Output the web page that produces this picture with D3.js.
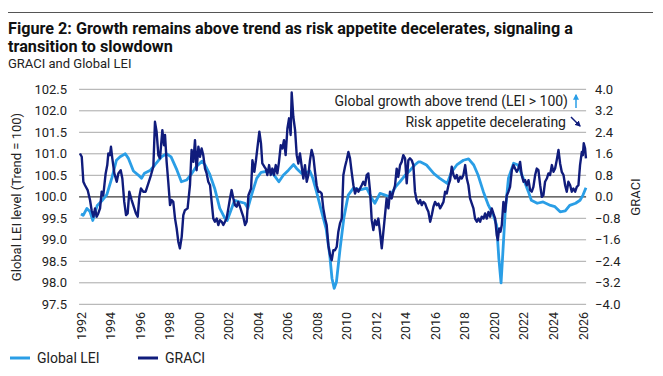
<!DOCTYPE html>
<html>
<head>
<meta charset="utf-8">
<script src="https://cdn.jsdelivr.net/npm/d3@7"></script>
<style>
  body { margin: 0; background: #fff; }
  svg { display: block; font-family: Roboto, "Noto Sans", sans-serif; }
</style>
</head>
<body>
<svg id="chart"></svg>
<script>
// Global LEI (left axis) as [year fraction, level]
var leiDates = [1992.0,1992.15,1992.4,1992.6,1992.8,1993.1,1993.4,1993.75,1994.1,1994.4,1994.65,1995.0,1995.2,1995.55,1995.9,1996.1,1996.3,1996.7,1997.0,1997.45,1997.8,1998.1,1998.5,1998.8,1999.15,1999.5,1999.8,2000.2,2000.4,2000.7,2001.05,2001.4,2001.75,2001.9,2002.2,2002.4,2002.75,2003.1,2003.3,2003.55,2003.9,2004.2,2004.7,2005.0,2005.4,2005.7,2006.05,2006.4,2006.6,2006.95,2007.3,2007.5,2007.7,2007.95,2008.3,2008.6,2008.85,2009.0,2009.15,2009.3,2009.55,2009.8,2010.1,2010.45,2010.9,2011.35,2011.7,2011.9,2012.25,2012.6,2012.9,2013.3,2013.6,2013.95,2014.3,2014.6,2014.85,2015.0,2015.4,2015.9,2016.3,2016.8,2017.1,2017.45,2017.9,2018.25,2018.6,2018.9,2019.25,2019.6,2019.9,2020.15,2020.3,2020.45,2020.55,2020.73,2020.95,2021.3,2021.6,2021.95,2022.3,2022.5,2022.9,2023.3,2023.8,2024.1,2024.45,2024.8,2025.1,2025.5,2025.8,2026.0,2026.2];
var leiLevels = [99.6,99.57,99.73,99.66,99.45,99.8,99.9,100.05,100.45,100.85,100.93,101.0,100.9,100.6,100.5,100.43,100.55,100.62,100.74,100.93,101.0,100.93,100.62,100.35,100.39,100.54,100.7,100.83,100.74,100.54,100.2,99.73,99.5,99.45,99.73,99.92,99.88,99.85,99.73,100.04,100.43,100.57,100.6,100.54,100.35,100.5,100.62,100.75,100.66,100.54,100.57,100.6,100.43,100.12,99.65,99.26,98.64,98.1,97.87,98.02,98.8,99.5,100.04,100.2,100.16,100.2,99.96,99.85,100.08,100.04,100.0,100.23,100.35,100.5,100.62,100.74,100.81,100.81,100.74,100.54,100.43,100.31,100.58,100.74,100.85,100.88,100.74,100.5,100.12,99.8,99.6,99.34,98.57,98.0,98.57,99.65,100.43,100.78,100.74,100.43,100.12,99.92,99.85,99.88,99.8,99.77,99.65,99.67,99.8,99.85,99.92,100.04,100.21];

// GRACI (right axis)
var graciDates = [1991.93,1992.05,1992.16,1992.27,1992.45,1992.61,1992.72,1992.84,1992.95,1993.06,1993.17,1993.29,1993.4,1993.51,1993.67,1993.78,1993.85,1993.96,1994.03,1994.12,1994.26,1994.42,1994.53,1994.69,1994.8,1994.93,1995.05,1995.16,1995.27,1995.43,1995.61,1995.72,1995.84,1995.95,1996.06,1996.22,1996.38,1996.56,1996.74,1996.9,1997.01,1997.12,1997.24,1997.35,1997.51,1997.62,1997.69,1997.8,1997.91,1998.03,1998.14,1998.25,1998.37,1998.48,1998.59,1998.7,1998.82,1998.93,1999.04,1999.22,1999.38,1999.49,1999.61,1999.72,1999.83,1999.95,2000.06,2000.17,2000.28,2000.4,2000.51,2000.62,2000.74,2000.85,2000.96,2001.07,2001.19,2001.3,2001.41,2001.53,2001.64,2001.75,2001.86,2001.98,2002.09,2002.2,2002.32,2002.43,2002.54,2002.65,2002.77,2002.88,2002.99,2003.11,2003.22,2003.34,2003.52,2003.61,2003.74,2003.85,2003.97,2004.08,2004.19,2004.28,2004.42,2004.51,2004.62,2004.74,2004.85,2004.96,2005.07,2005.19,2005.3,2005.41,2005.53,2005.64,2005.75,2005.86,2005.98,2006.09,2006.2,2006.27,2006.38,2006.5,2006.61,2006.72,2006.83,2006.95,2007.06,2007.17,2007.29,2007.4,2007.51,2007.62,2007.74,2007.85,2007.96,2008.08,2008.19,2008.3,2008.41,2008.53,2008.64,2008.75,2008.87,2008.98,2009.09,2009.2,2009.32,2009.43,2009.54,2009.66,2009.77,2009.88,2009.99,2010.11,2010.22,2010.33,2010.45,2010.56,2010.67,2010.79,2010.9,2011.01,2011.12,2011.24,2011.35,2011.46,2011.58,2011.69,2011.8,2011.91,2012.03,2012.14,2012.25,2012.37,2012.48,2012.59,2012.7,2012.82,2012.93,2013.04,2013.15,2013.27,2013.38,2013.49,2013.61,2013.72,2013.83,2013.95,2014.06,2014.17,2014.28,2014.4,2014.51,2014.62,2014.73,2014.85,2014.97,2015.08,2015.19,2015.31,2015.42,2015.53,2015.65,2015.76,2015.87,2015.98,2016.1,2016.21,2016.32,2016.44,2016.55,2016.66,2016.77,2016.89,2017.0,2017.11,2017.23,2017.34,2017.45,2017.56,2017.68,2017.79,2017.9,2018.02,2018.13,2018.24,2018.35,2018.47,2018.58,2018.69,2018.81,2018.92,2019.03,2019.14,2019.26,2019.37,2019.48,2019.6,2019.71,2019.82,2019.93,2020.05,2020.16,2020.23,2020.32,2020.41,2020.5,2020.61,2020.72,2020.84,2020.95,2021.06,2021.18,2021.29,2021.4,2021.51,2021.63,2021.74,2021.85,2021.97,2022.08,2022.19,2022.31,2022.42,2022.53,2022.64,2022.76,2022.87,2022.98,2023.1,2023.21,2023.32,2023.43,2023.55,2023.66,2023.77,2023.89,2024.0,2024.11,2024.22,2024.34,2024.45,2024.56,2024.68,2024.79,2024.9,2025.01,2025.13,2025.24,2025.35,2025.47,2025.58,2025.69,2025.8,2025.92,2025.99,2026.05,2026.14,2026.2];
var graciLevels = [1.61,1.49,0.56,0.43,0.25,-0.12,-0.5,-0.74,-0.43,-0.74,-0.62,-0.43,0.19,0.06,0.87,1.18,1.61,1.55,1.86,1.43,0.87,0.56,0.87,0.99,0.68,-0.19,-0.68,-0.62,0.19,-0.12,-0.43,-0.62,-0.74,0.0,0.31,0.19,0.19,0.5,0.81,1.12,2.79,2.42,1.55,1.43,2.48,1.92,2.3,1.3,0.56,-0.31,-0.12,-0.19,-0.81,-1.18,-1.67,-1.92,-1.49,-0.68,-0.5,-0.43,0.43,1.74,1.3,2.11,0.99,1.86,1.49,1.8,1.55,1.05,0.87,0.56,0.43,-0.19,-0.81,-0.93,-0.81,-1.05,-0.87,-0.93,-1.05,-0.93,-0.81,-0.43,-0.06,0.25,-0.06,-0.31,-0.37,-0.19,-0.37,-0.56,-0.74,-1.05,-0.93,0.06,0.31,1.36,0.93,1.36,1.92,2.42,1.99,1.24,1.12,1.05,0.81,1.18,0.81,1.05,0.81,1.18,0.87,1.3,1.92,1.8,2.11,1.55,2.54,2.92,2.3,3.88,2.98,2.48,1.55,1.24,1.61,1.12,0.68,1.18,0.56,0.81,1.36,1.74,1.49,0.93,0.43,0.19,0.19,0.12,-0.43,-0.81,-1.05,-1.8,-2.17,-2.36,-1.99,-1.99,-1.86,-1.3,-0.99,-0.81,0.81,1.12,1.36,1.67,1.43,0.93,0.43,0.12,0.31,0.19,0.31,0.43,0.56,0.43,0.81,0.87,0.19,-0.87,-1.24,-0.87,-1.05,-0.81,-1.3,-1.92,-1.3,-0.68,-0.06,-0.43,0.19,-0.06,0.19,0.43,1.05,0.74,1.18,1.3,1.55,1.43,0.5,1.36,1.43,1.36,1.18,0.19,-0.12,-0.25,-0.12,-0.31,-0.19,-0.25,-0.43,-0.56,-0.93,-0.68,-0.37,-0.19,-0.31,-0.25,-0.43,-0.31,-0.19,0.19,0.12,0.43,0.62,1.12,0.81,0.68,0.81,0.56,0.74,0.68,0.81,1.18,0.68,0.43,-0.06,-0.25,-0.43,-0.81,-0.93,-0.81,-0.93,-0.74,-0.81,-0.62,-0.81,-0.56,-0.74,-0.43,-0.62,-0.81,-1.43,-1.61,-1.18,-1.3,-1.05,-0.19,-0.56,0.06,0.19,0.37,0.99,1.18,1.05,0.93,1.05,1.3,0.81,0.56,0.62,0.43,0.62,0.25,0.19,0.37,0.81,1.05,0.99,0.43,0.0,0.06,0.56,0.68,0.87,0.81,1.18,0.93,1.05,1.36,1.74,1.24,0.93,0.81,0.43,0.19,0.56,0.43,0.19,0.31,0.19,0.37,0.43,1.18,1.67,1.55,1.99,1.8,1.43];

var yearTicks = d3.range(1992, 2027, 2);
var leiTicks = [97.5, 98.0, 98.5, 99.0, 99.5, 100.0, 100.5, 101.0, 101.5, 102.0, 102.5];
var graciTicks = [-4.0, -3.2, -2.4, -1.6, -0.8, 0.0, 0.8, 1.6, 2.4, 3.2, 4.0];

var width = 663, height = 376;
var leiColor = "#2a9ee6", graciColor = "#101c7c";

var svg = d3.select("#chart").attr("width", width).attr("height", height);

var x = d3.scaleLinear().domain([1992, 2026]).range([81, 583]);
var yL = d3.scaleLinear().domain([97.5, 102.5]).range([304.3, 89.3]);
var yR = d3.scaleLinear().domain([-4, 4]).range([304.3, 89.3]);
var x0 = x(1991.87), x1 = x(2026.21);

// top rule + title
svg.append("line").attr("x1", 8).attr("x2", 653).attr("y1", 12.5).attr("y2", 12.5)
  .attr("stroke", "#555").attr("stroke-width", 1);
var title = svg.append("text").attr("x", 8).attr("font-weight", 700).attr("font-size", 16.2).attr("fill", "#111");
title.append("tspan").attr("x", 8).attr("y", 34).text("Figure 2: Growth remains above trend as risk appetite decelerates, signaling a");
title.append("tspan").attr("x", 8).attr("y", 52).text("transition to slowdown");
svg.append("text").attr("x", 8).attr("y", 68).attr("font-size", 13).attr("fill", "#222").text("GRACI and Global LEI");

// grid
svg.append("g").selectAll("line").data(leiTicks).enter().append("line")
  .attr("x1", x0).attr("x2", x1)
  .attr("y1", function(d) { return yL(d); }).attr("y2", function(d) { return yL(d); })
  .attr("stroke", function(d) { return d === 100 ? "#3a3a3a" : "#a8a8a8"; })
  .attr("stroke-width", function(d) { return d === 100 ? 1.3 : 1; });

// left axis
var axL = svg.append("g").attr("transform", "translate(" + (x0 - 4) + ",0)")
  .call(d3.axisLeft(yL).tickValues(leiTicks).tickSize(0).tickPadding(8).tickFormat(d3.format(".1f")));
axL.select(".domain").remove();
axL.selectAll("text").attr("font-size", 13).attr("fill", "#222").style("font-family", "Roboto");

// right axis
var axR = svg.append("g").attr("transform", "translate(" + (x1 + 1) + ",0)")
  .call(d3.axisRight(yR).tickValues(graciTicks).tickSize(0).tickPadding(8).tickFormat(d3.format(".1f")));
axR.select(".domain").remove();
axR.selectAll("text").attr("font-size", 13).attr("fill", "#222").style("font-family", "Roboto");

// x axis labels, rotated
var axX = svg.append("g").attr("transform", "translate(0," + 312 + ")");
axX.selectAll("text").data(yearTicks).enter().append("text")
  .attr("transform", function(d) { return "translate(" + (x(d) + 4.5) + ",0) rotate(-90)"; })
  .attr("text-anchor", "end")
  .attr("font-size", 12.5).attr("fill", "#222")
  .text(function(d) { return d; });

// axis titles
svg.append("text").attr("transform", "translate(21,197) rotate(-90)").attr("text-anchor", "middle")
  .attr("font-size", 13).attr("fill", "#222").text("Global LEI level (Trend = 100)");
svg.append("text").attr("transform", "translate(640,197) rotate(-90)").attr("text-anchor", "middle")
  .attr("font-size", 13).attr("fill", "#222").text("GRACI");

// lines
var leiData = leiDates.map(function(d, i) { return [d, leiLevels[i]]; });
var graciData = graciDates.map(function(d, i) { return [d, graciLevels[i]]; });

svg.append("path").datum(leiData)
  .attr("fill", "none").attr("stroke", leiColor).attr("stroke-width", 2.8).attr("stroke-linejoin", "round")
  .attr("d", d3.line().x(function(d) { return x(d[0]); }).y(function(d) { return yL(d[1]); }));
svg.append("path").datum(graciData)
  .attr("fill", "none").attr("stroke", graciColor).attr("stroke-width", 2.4).attr("stroke-linejoin", "round")
  .attr("d", d3.line().x(function(d) { return x(d[0]); }).y(function(d) { return yR(d[1]); }));

// annotations
svg.append("text").attr("x", 568).attr("y", 106).attr("text-anchor", "end")
  .attr("font-size", 14).attr("fill", "#222").text("Global growth above trend (LEI > 100)");
svg.append("text").attr("x", 566).attr("y", 127).attr("text-anchor", "end")
  .attr("font-size", 14).attr("fill", "#222").text("Risk appetite decelerating");

var defs = svg.append("defs");
function arrowHead(id, color) {
  defs.append("marker").attr("id", id).attr("viewBox", "0 0 10 10")
    .attr("refX", 8).attr("refY", 5).attr("markerWidth", 4).attr("markerHeight", 4)
    .attr("orient", "auto")
    .append("path").attr("d", "M0,0 L10,5 L0,10 z").attr("fill", color);
}
arrowHead("upArrow", leiColor);
arrowHead("downArrow", graciColor);
svg.append("line").attr("x1", 576).attr("y1", 108).attr("x2", 576).attr("y2", 95)
  .attr("stroke", leiColor).attr("stroke-width", 1.5).attr("marker-end", "url(#upArrow)");
svg.append("line").attr("x1", 571).attr("y1", 117).attr("x2", 580).attr("y2", 126)
  .attr("stroke", graciColor).attr("stroke-width", 1.5).attr("marker-end", "url(#downArrow)");

// legend
var legend = svg.append("g").attr("transform", "translate(0,358)");
[["Global LEI", leiColor, 10], ["GRACI", graciColor, 138]].forEach(function(item) {
  legend.append("line").attr("x1", item[2]).attr("x2", item[2] + 20).attr("y1", 0).attr("y2", 0)
    .attr("stroke", item[1]).attr("stroke-width", 3);
  legend.append("text").attr("x", item[2] + 27).attr("y", 5)
    .attr("font-size", 14).attr("fill", "#222").text(item[0]);
});
</script>
</body>
</html>
